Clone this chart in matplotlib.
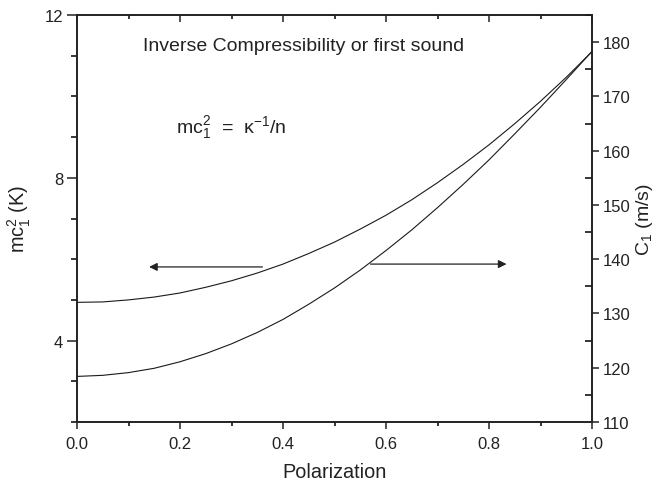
import matplotlib
matplotlib.use("Agg")
import matplotlib.pyplot as plt
from matplotlib.ticker import MultipleLocator

plt.rcParams['font.family'] = ['Liberation Sans', 'DejaVu Sans']
plt.rcParams['mathtext.fontset'] = 'custom'
plt.rcParams['mathtext.rm'] = 'Liberation Sans'
plt.rcParams['mathtext.it'] = 'Liberation Sans:italic'

# Data
polarization = [0.0, 0.05, 0.1, 0.15, 0.2, 0.25, 0.3, 0.35, 0.4, 0.45, 0.5,
                0.55, 0.6, 0.65, 0.7, 0.75, 0.8, 0.85, 0.9, 0.95, 1.0]
mc2_K = [4.94, 4.95, 5.00, 5.07, 5.17, 5.31, 5.47, 5.66, 5.88, 6.14, 6.42,
         6.74, 7.08, 7.46, 7.88, 8.33, 8.81, 9.33, 9.88, 10.47, 11.10]
c1_ms = [118.4, 118.6, 119.1, 119.9, 121.1, 122.6, 124.4, 126.5, 128.9, 131.7, 134.7,
         138.0, 141.6, 145.4, 149.5, 153.8, 158.3, 163.1, 168.0, 173.1, 178.3]

left_ticks = [4, 8, 12]
right_ticks = [110, 120, 130, 140, 150, 160, 170, 180]
x_ticks = [0.0, 0.2, 0.4, 0.6, 0.8, 1.0]

fig = plt.figure(figsize=(6.6, 4.85), dpi=100)
ax = fig.add_axes([77/660, 1-423/485, (592-77)/660, (423-16)/485])
ax2 = ax.twinx()

ax.plot(polarization, mc2_K, color='#1a1a1a', lw=0.8)
ax2.plot(polarization, c1_ms, color='#1a1a1a', lw=0.8)

ax.set_xlim(0, 1)
ax.set_ylim(2, 12)
ax2.set_ylim(110, 185)

ax.set_xticks(x_ticks)
ax.set_xticklabels([f"{v:.1f}" for v in x_ticks])
ax.xaxis.set_minor_locator(MultipleLocator(0.1))
ax.set_yticks(left_ticks)
ax.yaxis.set_minor_locator(MultipleLocator(1))
ax2.set_yticks(right_ticks)
ax2.yaxis.set_minor_locator(MultipleLocator(5))

for a in (ax, ax2):
    for s in a.spines.values():
        s.set_linewidth(1.2)
        s.set_color('#222222')

ax.tick_params(axis='x', which='major', direction='out', length=5, width=1.1,
               labelsize=12, pad=5, colors='#222222', top=True)
ax.tick_params(axis='x', which='minor', direction='out', length=3, width=1.1,
               top=True)
ax.tick_params(axis='x', which='both', labeltop=False)
ax.tick_params(axis='y', which='major', direction='out', length=7, width=1.1,
               labelsize=12, pad=3, colors='#222222')
ax.tick_params(axis='y', which='minor', direction='out', length=4, width=1.1)
ax2.tick_params(axis='y', which='major', direction='out', length=5, width=1.1,
                labelsize=12, pad=3, colors='#222222')
ax2.tick_params(axis='y', which='minor', direction='in', length=5, width=1.1)

# make top ticks point inward
for t in ax.xaxis.get_major_ticks() + ax.xaxis.get_minor_ticks():
    t.tick2line.set_marker(3)

ax.set_xlabel("Polarization", fontsize=14.3, labelpad=8, color='#222222')
ax.set_ylabel(r"mc$_1^2$ (K)", fontsize=14.3, labelpad=8, color='#222222')
ax2.set_ylabel(r"C$_1$ (m/s)", fontsize=14, labelpad=2, color='#222222')

ax.text(0.128, 11.24, "Inverse Compressibility or first sound", fontsize=14,
        va='center', ha='left', color='#222222')
ax.text(0.192, 9.27, r"mc$_1^2$  =  κ$^{-1}$/n", fontsize=14,
        va='center', ha='left', color='#222222')

arrow_style = dict(arrowstyle='-|>', color='#222222', lw=0.9,
                   mutation_scale=12, shrinkA=0, shrinkB=0)
ax.annotate("", xy=(0.14, 5.81), xytext=(0.36, 5.81), arrowprops=arrow_style)
ax2.annotate("", xy=(0.834, 139.1), xytext=(0.57, 139.1), arrowprops=arrow_style)

fig.savefig("out.png", dpi=100)
